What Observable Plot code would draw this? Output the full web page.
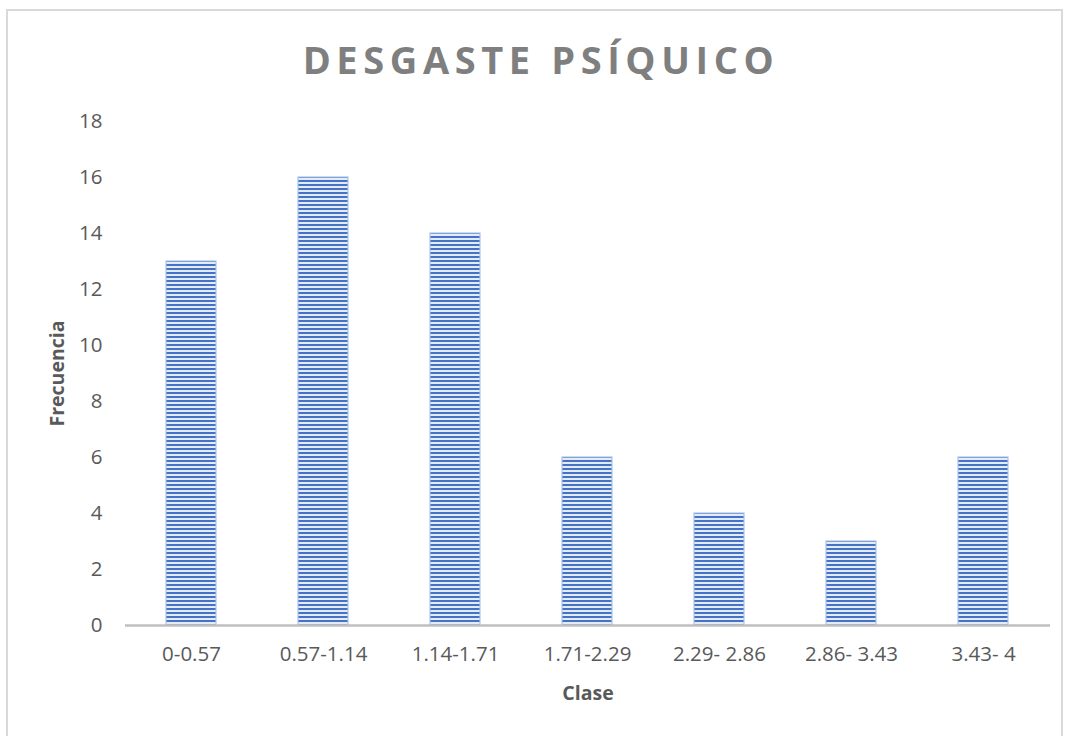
<!DOCTYPE html>
<html>
<head>
<meta charset="utf-8">
<script src="https://cdn.jsdelivr.net/npm/d3@7"></script>
<script src="https://cdn.jsdelivr.net/npm/@observablehq/plot@0.6"></script>
<style>
  html, body { margin: 0; padding: 0; background: #fff; }
  #wrap { position: relative; width: 1069px; height: 736px; overflow: hidden; }
  #frame { position: absolute; left: 6px; top: 9px; width: 1057px; height: 740px; border: 2px solid #d9d9d9; box-sizing: border-box; }
  #title { position: absolute; left: 0; width: 1082px; top: 33px; text-align: center;
    font-family: "Open Sans", sans-serif; font-weight: 700; font-size: 38px; letter-spacing: 5.6px; color: #7f7f7f; }
  #chart { position: absolute; left: 0; top: 0; }
</style>
</head>
<body>
<div id="wrap">
  <div id="frame"></div>
  <div id="chart"></div>
  <div id="title">DESGASTE PSÍQUICO</div>
</div>
<script>
const categories = ["0-0.57", "0.57-1.14", "1.14-1.71", "1.71-2.29", "2.29- 2.86", "2.86- 3.43", "3.43- 4"];
const frequencies = [13, 16, 14, 6, 4, 3, 6];
const yTicks = [0, 2, 4, 6, 8, 10, 12, 14, 16, 18];

const data = categories.map((c, i) => ({clase: c, freq: frequencies[i]}));

const chart = Plot.plot({
  width: 1069,
  height: 736,
  marginLeft: 125,
  marginRight: 19,
  marginTop: 121,
  marginBottom: 111,
  style: {fontFamily: "'Open Sans', sans-serif", fontSize: "20.5px", color: "#595959", background: "transparent"},
  x: {domain: categories, paddingInner: 0.62, paddingOuter: 0.31, label: null, tickSize: 0, tickPadding: 21},
  y: {domain: [0, 18], ticks: yTicks, label: null, tickSize: 0, tickPadding: 23},
  marks: [
    Plot.barY(data, {x: "clase", y: "freq", fill: "url(#stripes)", stroke: "#a9c4ea", strokeWidth: 1.2}),
    Plot.ruleY([0], {stroke: "#bfbfbf", strokeWidth: 2.5}),
    Plot.text(["Clase"], {frameAnchor: "bottom", dy: 68, lineAnchor: "middle", fontWeight: "bold", fontSize: 19.5, fill: "#595959"}),
    Plot.text(["Frecuencia"], {frameAnchor: "left", dx: -68, rotate: -90, textAnchor: "middle", lineAnchor: "middle", fontWeight: "bold", fontSize: 19.5, fill: "#595959"})
  ]
});

const ns = "http://www.w3.org/2000/svg";
const defs = document.createElementNS(ns, "defs");
defs.innerHTML = `<pattern id="stripes" patternUnits="userSpaceOnUse" width="8" height="4">
  <rect x="0" y="0" width="8" height="4" fill="#e4ebf7"></rect>
  <rect x="0" y="0" width="8" height="2" fill="#4472c4"></rect>
</pattern>`;
chart.insertBefore(defs, chart.firstChild);
document.getElementById("chart").appendChild(chart);
</script>
</body>
</html>
